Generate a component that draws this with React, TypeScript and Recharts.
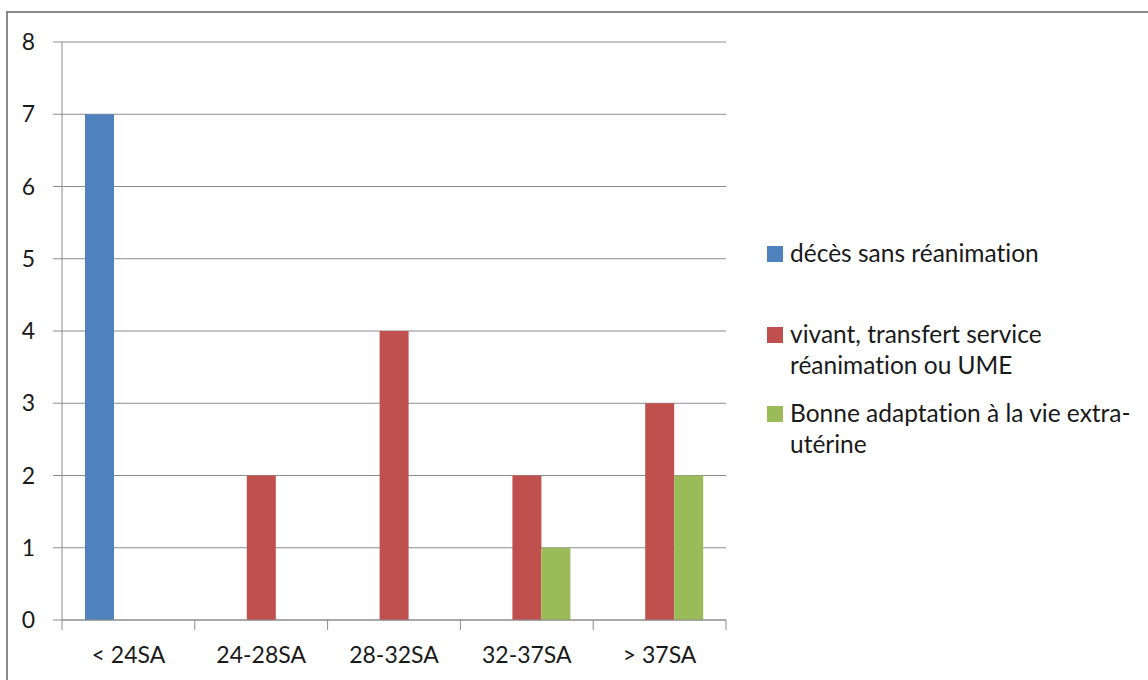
import { BarChart, Bar, XAxis, YAxis, CartesianGrid } from "recharts";

const CATEGORIES = ["< 24SA", "24-28SA", "28-32SA", "32-37SA", "> 37SA"];
const DECES = [7, 0, 0, 0, 0];
const VIVANT = [0, 2, 4, 2, 3];
const BONNE = [0, 0, 0, 1, 2];
const Y_TICKS = [0, 1, 2, 3, 4, 5, 6, 7, 8];

const SERIES = [
  { key: "deces", name: "décès sans réanimation", color: "#4F81BD", values: DECES },
  { key: "vivant", name: "vivant, transfert service\nréanimation ou UME", color: "#C0504D", values: VIVANT },
  { key: "bonne", name: "Bonne adaptation à la vie extra-\nutérine", color: "#9BBB59", values: BONNE },
];

const data = CATEGORIES.map((label, i) => {
  const row: Record<string, string | number> = { label };
  SERIES.forEach((s) => (row[s.key] = s.values[i]));
  return row;
});

const FONT = "Lato, 'Open Sans', sans-serif";
const GRID = "#8c8c8c";
const TEXT = "#1a1a1a";
const PLOT_W = 664;

function CategoryTick(props: any) {
  const { x, y, payload, index } = props;
  const half = payload?.offset ?? PLOT_W / CATEGORIES.length / 2;
  const isLast = index === CATEGORIES.length - 1;
  return (
    <g>
      <line x1={x - half} x2={x - half} y1={y - 27} y2={y - 17} stroke={GRID} />
      {isLast && <line x1={x + half} x2={x + half} y1={y - 27} y2={y - 17} stroke={GRID} />}
      <text x={x} y={y} dy="0.71em" textAnchor="middle" fill={TEXT} fontSize={23} fontFamily={FONT}>
        {payload.value}
      </text>
    </g>
  );
}

export default function App() {
  const legendGaps = [237, 50, 17];
  return (
    <div
      style={{
        position: "absolute",
        left: 0,
        top: 0,
        width: 1148,
        height: 680,
        overflow: "hidden",
        background: "#fff",
        fontFamily: FONT,
        fontVariantLigatures: "none",
      }}
    >
      <div
        style={{
          position: "absolute",
          left: 6,
          top: 11,
          width: 1200,
          height: 720,
          border: "2px solid #8a8a8a",
        }}
      />
      <div style={{ position: "absolute", left: 0, top: 0 }}>
        <BarChart
          width={1148}
          height={680}
          data={data}
          margin={{ top: 42, right: 422, bottom: 0, left: 0 }}
          barGap={0}
          barSize={29}
        >
          <CartesianGrid vertical={false} stroke={GRID} strokeWidth={1} />
          <XAxis
            dataKey="label"
            height={60}
            axisLine={{ stroke: GRID }}
            tickLine={false}
            tickSize={9}
            tickMargin={18}
            interval={0}
            tick={<CategoryTick />}
          />
          <YAxis
            width={62}
            domain={[0, 8]}
            ticks={Y_TICKS}
            interval={0}
            axisLine={{ stroke: GRID }}
            tickLine={{ stroke: GRID }}
            tickSize={9}
            tickMargin={18}
            tick={{ fill: TEXT, fontSize: 23, fontFamily: FONT }}
          />
          {SERIES.map((s) => (
            <Bar key={s.key} dataKey={s.key} name={s.name} fill={s.color} isAnimationActive={false} />
          ))}
        </BarChart>
      </div>
      <div style={{ position: "absolute", left: 767, top: 0 }}>
        {SERIES.map((s, i) => (
          <div
            key={s.key}
            style={{
              display: "flex",
              alignItems: "flex-start",
              marginTop: legendGaps[i],
              fontSize: 24.5,
              lineHeight: "31px",
              color: TEXT,
            }}
          >
            <span
              style={{
                width: 16,
                height: 16,
                marginTop: 9,
                marginRight: 7,
                background: s.color,
                flex: "none",
              }}
            />
            <span style={{ whiteSpace: "pre-line" }}>{s.name}</span>
          </div>
        ))}
      </div>
    </div>
  );
}
